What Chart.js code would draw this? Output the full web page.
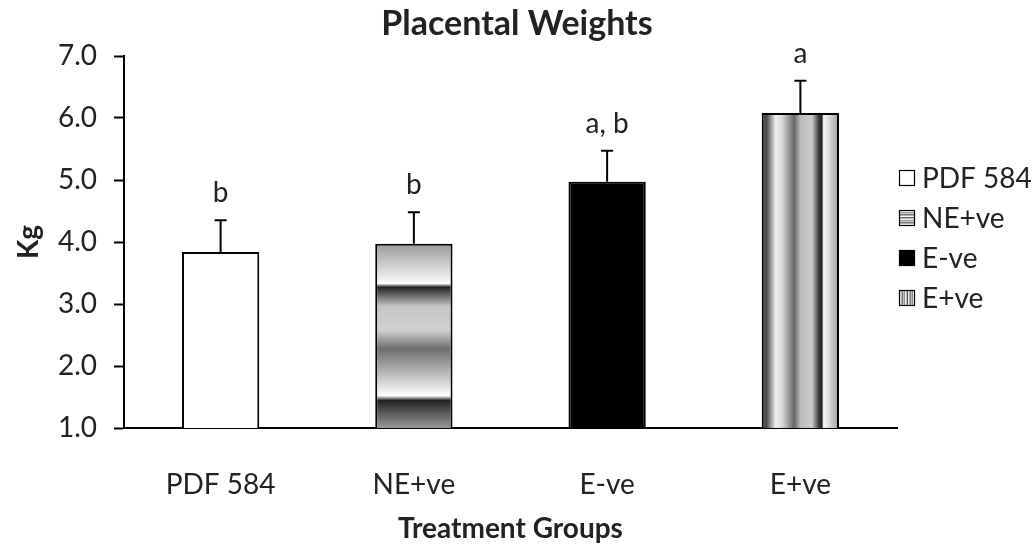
<!DOCTYPE html>
<html>
<head>
<meta charset="utf-8">
<script src="https://cdn.jsdelivr.net/npm/chart.js@4.4.1/dist/chart.umd.min.js"></script>
<style>
  html, body { margin: 0; padding: 0; background: #ffffff; }
  #wrap { width: 1034px; height: 546px; position: relative; }
</style>
</head>
<body>
<div id="wrap"><canvas id="chart" width="1034" height="546"></canvas></div>
<script>
// Treatment groups and their mean placental weights (kg)
const categories = ['PDF 584', 'NE+ve', 'E-ve', 'E+ve'];
const meanWeights = [3.84, 3.97, 4.97, 6.08];
const errorMargins = [0.51, 0.51, 0.50, 0.52];
const significanceLabels = ['b', 'b', 'a, b', 'a'];

// Value axis
const yMin = 1;
const yMax = 7;
const yStep = 1;

const FONT = 'Lato, "Open Sans", sans-serif';
const TEXT = '#222222';

// Fill styles: plain white, horizontal banding, solid black, vertical banding
const hBandStops = [
  [0.00, '#9a9a9a'], [0.20, '#f4f4f4'], [0.215, '#ffffff'], [0.235, '#222222'],
  [0.34, '#c6c6c6'], [0.47, '#d0d0d0'], [0.57, '#6e6e6e'], [0.72, '#c2c2c2'],
  [0.81, '#f6f6f6'], [0.825, '#ffffff'], [0.85, '#222222'], [1.00, '#9a9a9a']
];
const vBandStops = [
  [0.00, '#5a5a5a'], [0.06, '#4a4a4a'], [0.18, '#eeeeee'], [0.26, '#dcdcdc'],
  [0.42, '#666666'], [0.50, '#bababa'], [0.65, '#cccccc'], [0.74, '#3a3a3a'],
  [0.78, '#222222'], [0.80, '#f6f6f6'], [0.86, '#e0e0e0'], [1.00, '#9c9c9c']
];

function gradientFrom(ctx, x0, y0, x1, y1, stops) {
  const g = ctx.createLinearGradient(x0, y0, x1, y1);
  stops.forEach(([o, c]) => g.addColorStop(o, c));
  return g;
}

function barBox(chart, i) {
  const xs = chart.scales.x, ys = chart.scales.y;
  const cx = xs.getPixelForValue(i);
  const w = (xs.width / categories.length) * 0.4;
  return {
    left: cx - w / 2, right: cx + w / 2,
    top: ys.getPixelForValue(meanWeights[i]),
    bottom: ys.getPixelForValue(yMin)
  };
}

function barFill(context) {
  const chart = context.chart;
  const i = context.dataIndex;
  if (!chart.chartArea || i === undefined) return '#ffffff';
  const b = barBox(chart, i);
  const ctx = chart.ctx;
  if (i === 0) return '#ffffff';
  if (i === 1) return gradientFrom(ctx, 0, b.top, 0, b.bottom, hBandStops);
  if (i === 2) return '#000000';
  return gradientFrom(ctx, b.left, 0, b.right, 0, vBandStops);
}

// Error bars (upper whisker only) and significance letters
const errorBarPlugin = {
  id: 'errorBars',
  afterDatasetsDraw(chart) {
    const ctx = chart.ctx;
    const xs = chart.scales.x, ys = chart.scales.y;
    ctx.save();
    ctx.strokeStyle = '#000000';
    ctx.lineWidth = 2;
    meanWeights.forEach((m, i) => {
      const x = xs.getPixelForValue(i);
      const y0 = ys.getPixelForValue(m);
      const y1 = ys.getPixelForValue(m + errorMargins[i]);
      ctx.beginPath();
      ctx.moveTo(x, y0);
      ctx.lineTo(x, y1);
      ctx.moveTo(x - 6, y1);
      ctx.lineTo(x + 6, y1);
      ctx.stroke();
      ctx.fillStyle = TEXT;
      ctx.font = '28px ' + FONT;
      ctx.textAlign = 'center';
      ctx.textBaseline = 'alphabetic';
      ctx.fillText(significanceLabels[i], x, y1 - 18);
    });
    ctx.restore();
  }
};

// Legend as a layout box on the right, one row per group
function drawSwatch(ctx, i, x0, top, size) {
  if (i === 1 || i === 3) {
    // banding repeated twice across the small swatch
    for (let k = 0; k < 2; k++) {
      if (i === 1) {
        ctx.fillStyle = gradientFrom(ctx, 0, top + k * size / 2, 0, top + (k + 1) * size / 2, hBandStops);
        ctx.fillRect(x0, top + k * size / 2, size, size / 2);
      } else {
        ctx.fillStyle = gradientFrom(ctx, x0 + k * size / 2, 0, x0 + (k + 1) * size / 2, 0, vBandStops);
        ctx.fillRect(x0 + k * size / 2, top, size / 2, size);
      }
    }
  } else {
    ctx.fillStyle = i === 0 ? '#ffffff' : '#000000';
    ctx.fillRect(x0, top, size, size);
  }
  ctx.strokeStyle = '#000000';
  ctx.lineWidth = 1.2;
  ctx.strokeRect(x0 + 0.5, top + 0.5, size - 1, size - 1);
}

const sideLegendPlugin = {
  id: 'sideLegend',
  start(chart) {
    const box = {
      position: 'right',
      weight: 1000,
      fullSize: false,
      options: { position: 'right', weight: 1000, fullSize: false },
      left: 0, top: 0, right: 0, bottom: 0, width: 0, height: 0,
      isHorizontal() { return false; },
      update(maxWidth, maxHeight) {
        this.width = 137;
        this.height = maxHeight;
        return { width: this.width, height: this.height };
      },
      draw() {
        const ctx = chart.ctx;
        const x0 = this.left + 2, size = 16, rowGap = 40;
        const firstRow = (chart.chartArea.top + chart.chartArea.bottom) / 2 - rowGap * 1.5 - 4;
        ctx.save();
        categories.forEach((name, i) => {
          const cy = firstRow + i * rowGap;
          drawSwatch(ctx, i, x0, cy - size / 2, size);
          ctx.fillStyle = TEXT;
          ctx.font = '28px ' + FONT;
          ctx.textAlign = 'left';
          ctx.textBaseline = 'middle';
          ctx.fillText(name, x0 + 23, cy + 1);
        });
        ctx.restore();
      }
    };
    Chart.layouts.addBox(chart, box);
  }
};

new Chart(document.getElementById('chart'), {
  type: 'bar',
  data: {
    labels: categories,
    datasets: [{
      label: 'Placental weight',
      data: meanWeights,
      backgroundColor: barFill,
      borderColor: '#000000',
      borderWidth: 2,
      borderSkipped: false,
      barPercentage: 0.4,
      categoryPercentage: 1.0
    }]
  },
  options: {
    responsive: false,
    animation: false,
    devicePixelRatio: 1,
    layout: { padding: 0 },
    plugins: {
      legend: { display: false },
      tooltip: { enabled: false },
      title: {
        display: true,
        text: 'Placental Weights',
        color: TEXT,
        font: { family: FONT, size: 34, weight: 'bold' },
        padding: { top: 4, bottom: 11.2 }
      }
    },
    scales: {
      x: {
        offset: true,
        grid: { display: false },
        border: { display: true, color: '#000000', width: 2 },
        ticks: { color: TEXT, font: { family: FONT, size: 28 }, padding: 32 },
        title: {
          display: true,
          text: 'Treatment Groups',
          color: TEXT,
          font: { family: FONT, size: 28, weight: 'bold' },
          padding: { top: 0, bottom: 0 }
        },
        afterFit(scale) { scale.height = 118; }
      },
      y: {
        min: yMin,
        max: yMax,
        grid: {
          drawOnChartArea: false,
          drawTicks: true,
          tickLength: 10,
          tickWidth: 2,
          tickColor: '#000000'
        },
        border: { display: true, color: '#000000', width: 2 },
        ticks: {
          stepSize: yStep,
          color: TEXT,
          font: { family: FONT, size: 28 },
          padding: 17,
          callback: (v) => Number(v).toFixed(1)
        },
        title: {
          display: true,
          text: 'Kg',
          color: TEXT,
          font: { family: FONT, size: 28, weight: 'bold' },
          padding: { top: 12, bottom: 0 }
        },
        afterFit(scale) { scale.width = 124; }
      }
    }
  },
  plugins: [errorBarPlugin, sideLegendPlugin]
});
</script>
</body>
</html>
